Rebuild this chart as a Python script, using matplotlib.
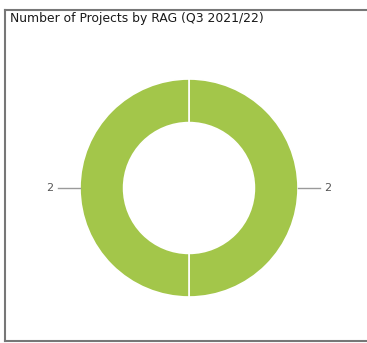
import matplotlib
matplotlib.use("Agg")
import matplotlib.pyplot as plt
import numpy as np
from matplotlib.lines import Line2D

title = "Number of Projects by RAG (Q3 2021/22)"
categories = ["Green", "Green"]
values = [2, 2]
colors = ["#A3C64A", "#A3C64A"]

W, H = 367, 343
fig = plt.figure(figsize=(W / 100, H / 100), dpi=100)
fig.patch.set_facecolor("white")
ax = fig.add_axes([0, 0, 1, 1])

cx, cy, R = 189, H - 188, 109
wedges, _ = ax.pie(values, colors=colors, startangle=90, counterclock=False,
                   center=(cx, cy), radius=R, frame=True,
                   wedgeprops=dict(width=R * 0.4, edgecolor="white", linewidth=1.2))
ax.set_xlim(0, W)
ax.set_ylim(0, H)
ax.set_aspect("equal")
ax.axis("off")

for w, v in zip(wedges, values):
    ang = np.deg2rad((w.theta1 + w.theta2) / 2)
    dx, dy = np.cos(ang), np.sin(ang)
    x0, y0 = cx + R * dx, cy + R * dy
    x1, y1 = cx + (R + 22) * dx, cy + (R + 22) * dy
    ax.plot([x0, x1], [y0, y1], color="#9a9a9a", lw=1)
    ax.text(x1 + 8 * np.sign(dx), y1, str(v), ha="center", va="center",
            fontsize=8, color="#555555")

# border
col = "#777777"
fig.add_artist(Line2D([4.5 / W, 4.5 / W], [1 - 9.5 / H, 1 - 341 / H], color=col, lw=1.5, transform=fig.transFigure))
fig.add_artist(Line2D([4.5 / W, 1.0], [1 - 9.5 / H, 1 - 9.5 / H], color=col, lw=1.5, transform=fig.transFigure))
fig.add_artist(Line2D([4.5 / W, 1.0], [1 - 341 / H, 1 - 341 / H], color=col, lw=1.5, transform=fig.transFigure))

fig.text(10 / W, 1 - 18.5 / H, title, ha="left", va="center", fontsize=8.9, color="#1a1a1a")

fig.savefig("out.png", dpi=100)
